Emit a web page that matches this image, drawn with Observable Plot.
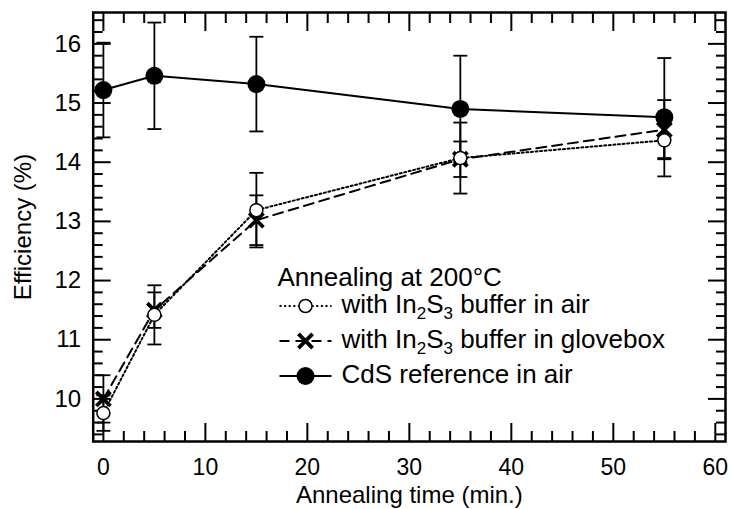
<!DOCTYPE html>
<html>
<head>
<meta charset="utf-8">
<script src="https://cdn.jsdelivr.net/npm/d3@7"></script>
<script src="https://cdn.jsdelivr.net/npm/@observablehq/plot@0.6"></script>
<style>
  html, body { margin: 0; padding: 0; background: #fff; }
  #chart svg { display: block; }
</style>
</head>
<body>
<div id="chart"></div>
<script>
// ---- data ----
const times = [0, 5, 15, 35, 55];
const airEff = [9.76, 11.42, 13.19, 14.07, 14.37];
const airErr = [0.30, 0.50, 0.63, 0.60, 0.30];
const gloveEff = [10.0, 11.5, 13.02, 14.05, 14.55];
const gloveErr = [0.40, 0.30, 0.42, 0.30, 0.50];
const cdsEff = [15.22, 15.46, 15.32, 14.90, 14.76];
const cdsErr = [0.80, 0.90, 0.80, 0.90, 1.00];

const xMajorTicks = [0, 10, 20, 30, 40, 50, 60];
const xMinorTicks = [2, 4, 6, 8, 12, 14, 16, 18, 22, 24, 26, 28, 32, 34, 36, 38, 42, 44, 46, 48, 52, 54, 56, 58];
const yMajorTicks = [10, 11, 12, 13, 14, 15, 16];
const yMinorTicks = [9.4, 9.6, 9.8, 10.2, 10.4, 10.6, 10.8, 11.2, 11.4, 11.6, 11.8, 12.2, 12.4, 12.6, 12.8,
  13.2, 13.4, 13.6, 13.8, 14.2, 14.4, 14.6, 14.8, 15.2, 15.4, 15.6, 15.8, 16.2, 16.4];

const xLabel = "Annealing time (min.)";
const yLabel = "Efficiency (%)";
const legendTitle = "Annealing at 200°C";
const legendLabels = ["with In2S3 buffer in air", "with In2S3 buffer in glovebox", "CdS reference in air"];

// ---- build tables ----
const rows = (eff, err) => times.map((t, i) => ({t, v: eff[i], lo: eff[i] - err[i], hi: eff[i] + err[i]}));
const air = rows(airEff, airErr);
const glove = rows(gloveEff, gloveErr);
const cds = rows(cdsEff, cdsErr);

const capSymbol = {draw(ctx, size) { const w = Math.sqrt(size / Math.PI); ctx.moveTo(-w, 0); ctx.lineTo(w, 0); }};
const hLineSymbol = {draw(ctx, size) { const w = Math.sqrt(size / Math.PI); ctx.moveTo(-w, 0); ctx.lineTo(w, 0); }};

const FONT = "'Liberation Sans', Arial, Helvetica, sans-serif";
const ML = 92.7, MT = 12;

function errorMarks(data) {
  return [
    Plot.ruleX(data, {x: "t", y1: "lo", y2: "hi", stroke: "black", strokeWidth: 1.8}),
    Plot.dot(data, {x: "t", y: "hi", symbol: capSymbol, r: 7, stroke: "black", strokeWidth: 1.8, fill: "none"}),
    Plot.dot(data, {x: "t", y: "lo", symbol: capSymbol, r: 7, stroke: "black", strokeWidth: 1.8, fill: "none"})
  ];
}

const legendRowY = [305.5, 340.5, 375.5];
const legendSampleX = 305;
const legendTextX = 341;
const dotted = "2,2.6";
const dashed = "10,6";

const chart = Plot.plot({
  width: 731,
  height: 509,
  marginLeft: ML,
  marginRight: 6,
  marginTop: MT,
  marginBottom: 68,
  style: {fontFamily: FONT, fontSize: "24px", color: "black", background: "white"},
  x: {domain: [-1, 61], axis: null},
  y: {domain: [9.28, 16.53], axis: null},
  marks: [
    // ticks (inward) on all four sides
    Plot.axisX({anchor: "bottom", ticks: xMajorTicks, tickSize: -18, tickFormat: () => "", label: null, strokeWidth: 2}),
    Plot.axisX({anchor: "bottom", ticks: xMinorTicks, tickSize: -10, tickFormat: () => "", label: null, strokeWidth: 2}),
    Plot.axisX({anchor: "top", ticks: xMajorTicks, tickSize: -18, tickFormat: () => "", label: null, strokeWidth: 2}),
    Plot.axisX({anchor: "top", ticks: xMinorTicks, tickSize: -10, tickFormat: () => "", label: null, strokeWidth: 2}),
    Plot.axisY({anchor: "left", ticks: yMajorTicks, tickSize: -18, tickFormat: () => "", label: null, strokeWidth: 2}),
    Plot.axisY({anchor: "left", ticks: yMinorTicks, tickSize: -10, tickFormat: () => "", label: null, strokeWidth: 2}),
    Plot.axisY({anchor: "right", ticks: yMajorTicks, tickSize: -18, tickFormat: () => "", label: null, strokeWidth: 2}),
    Plot.axisY({anchor: "right", ticks: yMinorTicks, tickSize: -10, tickFormat: () => "", label: null, strokeWidth: 2}),
    // tick labels + axis titles
    Plot.axisX({anchor: "bottom", ticks: xMajorTicks, tickSize: 0, tickPadding: 17, fontSize: 23, label: null}),
    Plot.text([xLabel], {text: d => d, frameAnchor: "bottom", dy: 61, lineAnchor: "bottom", fontSize: 24}),
    Plot.axisY({anchor: "left", ticks: yMajorTicks, tickSize: 0, tickPadding: 12, fontSize: 24,
      label: yLabel, labelAnchor: "center", labelArrow: "none", labelOffset: 79}),
    Plot.frame({stroke: "black", strokeWidth: 2.5}),
    // error bars
    ...errorMarks(cds),
    ...errorMarks(air),
    ...errorMarks(glove),
    // lines
    Plot.line(cds, {x: "t", y: "v", stroke: "black", strokeWidth: 2}),
    Plot.line(glove, {x: "t", y: "v", stroke: "black", strokeWidth: 2, strokeDasharray: dashed}),
    Plot.line(air, {x: "t", y: "v", stroke: "black", strokeWidth: 2, strokeDasharray: dotted}),
    // markers
    Plot.dot(cds, {x: "t", y: "v", r: 9, fill: "black", stroke: "none"}),
    Plot.dot(glove, {x: "t", y: "v", symbol: "times", r: 6.5, stroke: "black", strokeWidth: 3.8}),
    Plot.dot(air, {x: "t", y: "v", r: 6.5, fill: "white", stroke: "black", strokeWidth: 1.5}),
    // legend
    Plot.text([legendTitle], {text: d => d, frameAnchor: "top-left", dx: 277 - ML, dy: 285 - MT,
      textAnchor: "start", lineAnchor: "bottom", fontSize: 26}),
    ...legendLabels.map((label, i) => Plot.text([label], {text: d => d, frameAnchor: "top-left",
      dx: legendTextX - ML, dy: legendRowY[i] + 7 - MT, textAnchor: "start", lineAnchor: "bottom", fontSize: 26})),
    // legend samples
    Plot.dot([0], {frameAnchor: "top-left", dx: legendSampleX - ML, dy: legendRowY[0] - MT, symbol: hLineSymbol, r: 26,
      stroke: "black", strokeWidth: 2, strokeDasharray: dotted, fill: "none"}),
    Plot.dot([0], {frameAnchor: "top-left", dx: legendSampleX - ML, dy: legendRowY[0] - MT, r: 6.5,
      fill: "white", stroke: "black", strokeWidth: 1.5}),
    Plot.dot([0], {frameAnchor: "top-left", dx: legendSampleX - ML, dy: legendRowY[1] - MT, symbol: hLineSymbol, r: 26,
      stroke: "black", strokeWidth: 2, strokeDasharray: dashed, fill: "none"}),
    Plot.dot([0], {frameAnchor: "top-left", dx: legendSampleX - ML, dy: legendRowY[1] - MT, symbol: "times", r: 6.5,
      stroke: "black", strokeWidth: 3.8}),
    Plot.dot([0], {frameAnchor: "top-left", dx: legendSampleX - ML, dy: legendRowY[2] - MT, symbol: hLineSymbol, r: 26,
      stroke: "black", strokeWidth: 2, fill: "none"}),
    Plot.dot([0], {frameAnchor: "top-left", dx: legendSampleX - ML, dy: legendRowY[2] - MT, r: 9,
      fill: "black", stroke: "none"})
  ]
});

// subscripts for In2S3
chart.querySelectorAll("text").forEach(el => {
  const s = el.textContent;
  if (s.includes("In2S3") && el.children.length === 0) {
    const [before, after] = s.split("In2S3");
    el.textContent = "";
    const ns = "http://www.w3.org/2000/svg";
    const add = (txt, attrs) => {
      const t = document.createElementNS(ns, "tspan");
      t.textContent = txt;
      for (const k in attrs) t.setAttribute(k, attrs[k]);
      el.appendChild(t);
    };
    add(before + "In", {});
    add("2", {"font-size": "17", dy: "6"});
    add("S", {dy: "-6"});
    add("3", {"font-size": "17", dy: "6"});
    add(after, {dy: "-6"});
  }
});

document.getElementById("chart").appendChild(chart);
</script>
</body>
</html>
